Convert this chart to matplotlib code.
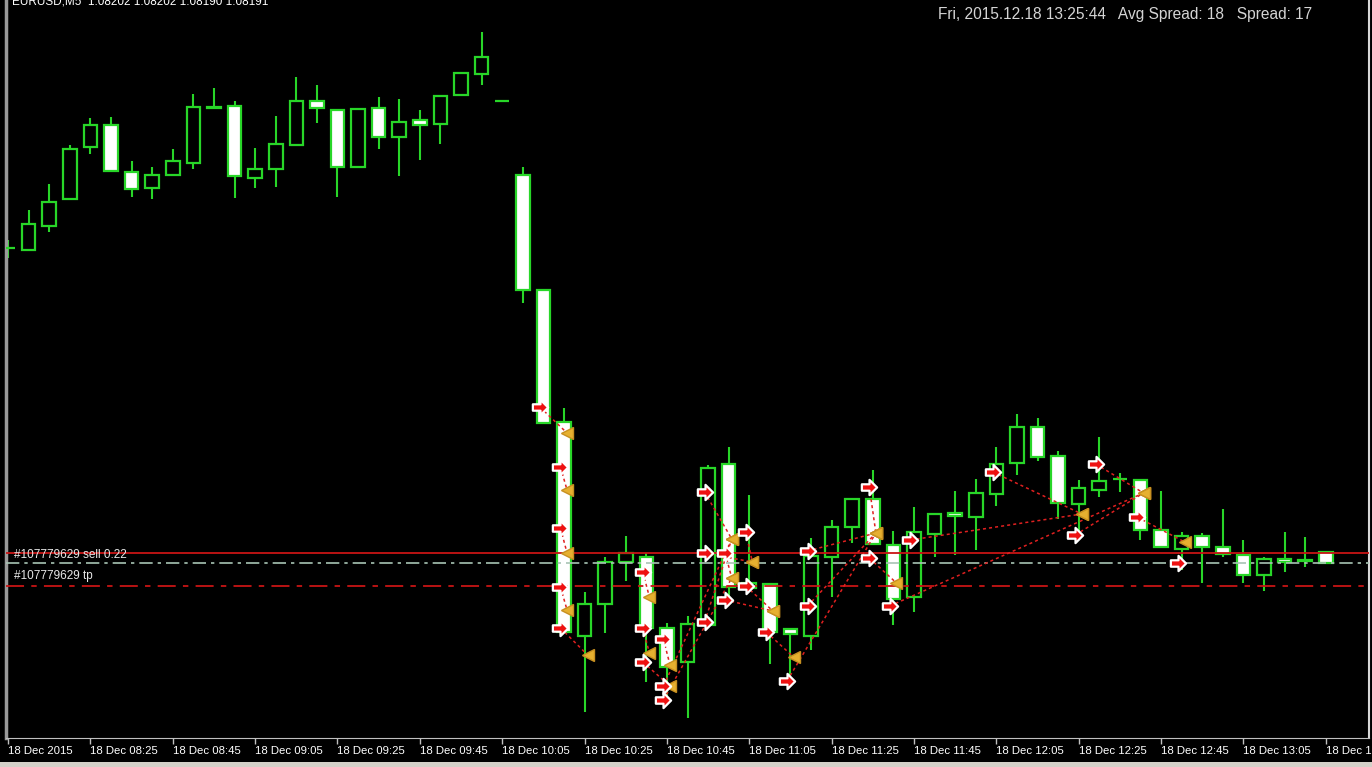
import numpy as np
import matplotlib
matplotlib.use('Agg')
import matplotlib.pyplot as plt
from matplotlib.path import Path
from matplotlib.patches import Rectangle

# EURUSD M5, 18 Dec 2015, bars from 08:05
opens = [1.08506, 1.08504, 1.08528, 1.08555, 1.08607, 1.08629, 1.08582, 1.08566, 1.08579, 1.08591,
         1.08647, 1.08648, 1.08576, 1.08585, 1.08609, 1.08653, 1.08644, 1.08587, 1.08646, 1.08617,
         1.08634, 1.08630, 1.08659, 1.08680, 1.08653, 1.08579, 1.08464, 1.08332, 1.08118, 1.08150,
         1.08192, 1.08197, 1.08126, 1.08092, 1.08129, 1.08290, 1.08166, 1.08170, 1.08125, 1.08118,
         1.08197, 1.08227, 1.08255, 1.08209, 1.08157, 1.08220, 1.08241, 1.08237, 1.08260, 1.08291,
         1.08327, 1.08298, 1.08250, 1.08264, 1.08275, 1.08274, 1.08224, 1.08205, 1.08218, 1.08207,
         1.08199, 1.08179, 1.08195, 1.08193, 1.08202]
highs = [1.08514, 1.08544, 1.08570, 1.08609, 1.08636, 1.08637, 1.08593, 1.08587, 1.08605, 1.08660,
         1.08666, 1.08653, 1.08606, 1.08638, 1.08677, 1.08669, 1.08644, 1.08645, 1.08657, 1.08655,
         1.08644, 1.08658, 1.08681, 1.08722, 1.08653, 1.08587, 1.08464, 1.08346, 1.08162, 1.08197,
         1.08218, 1.08201, 1.08131, 1.08138, 1.08289, 1.08307, 1.08259, 1.08170, 1.08125, 1.08216,
         1.08234, 1.08255, 1.08284, 1.08223, 1.08247, 1.08240, 1.08263, 1.08275, 1.08307, 1.08340,
         1.08336, 1.08303, 1.08274, 1.08317, 1.08281, 1.08274, 1.08263, 1.08222, 1.08221, 1.08245,
         1.08214, 1.08197, 1.08222, 1.08217, 1.08202]
lows = [1.08496, 1.08503, 1.08522, 1.08555, 1.08600, 1.08583, 1.08557, 1.08555, 1.08579, 1.08585,
        1.08646, 1.08556, 1.08566, 1.08567, 1.08609, 1.08631, 1.08557, 1.08587, 1.08605, 1.08578,
        1.08594, 1.08610, 1.08659, 1.08669, 1.08653, 1.08451, 1.08331, 1.08122, 1.08042, 1.08121,
        1.08173, 1.08072, 1.08051, 1.08036, 1.08126, 1.08157, 1.08166, 1.08090, 1.08067, 1.08104,
        1.08157, 1.08211, 1.08210, 1.08129, 1.08142, 1.08197, 1.08199, 1.08204, 1.08248, 1.08279,
        1.08293, 1.08235, 1.08219, 1.08257, 1.08262, 1.08214, 1.08207, 1.08184, 1.08171, 1.08197,
        1.08171, 1.08163, 1.08182, 1.08187, 1.08190]
closes = [1.08506, 1.08530, 1.08552, 1.08605, 1.08629, 1.08583, 1.08565, 1.08579, 1.08593, 1.08647,
          1.08646, 1.08578, 1.08585, 1.08610, 1.08653, 1.08646, 1.08587, 1.08645, 1.08617, 1.08632,
          1.08629, 1.08658, 1.08681, 1.08697, 1.08653, 1.08464, 1.08331, 1.08122, 1.08150, 1.08192,
          1.08201, 1.08126, 1.08087, 1.08130, 1.08286, 1.08167, 1.08171, 1.08122, 1.08120, 1.08198,
          1.08227, 1.08255, 1.08210, 1.08155, 1.08222, 1.08240, 1.08238, 1.08261, 1.08290, 1.08327,
          1.08297, 1.08251, 1.08266, 1.08273, 1.08275, 1.08224, 1.08207, 1.08218, 1.08207, 1.08200,
          1.08179, 1.08195, 1.08192, 1.08194, 1.08191]

tick_bars = [0, 4, 8, 12, 16, 20, 24, 28, 32, 36, 40, 44, 48, 52, 56, 60, 64]
tick_labels = ['18 Dec 2015', '18 Dec 08:25', '18 Dec 08:45', '18 Dec 09:05', '18 Dec 09:25',
               '18 Dec 09:45', '18 Dec 10:05', '18 Dec 10:25', '18 Dec 10:45', '18 Dec 11:05',
               '18 Dec 11:25', '18 Dec 11:45', '18 Dec 12:05', '18 Dec 12:25', '18 Dec 12:45',
               '18 Dec 13:05', '18 Dec 13:25']

# closed trades: open bar, open price, close bar, close price
trade_open_bar = [26, 27, 27, 27, 27, 31, 31, 31, 32, 32, 32, 34, 34, 34, 35, 35, 36, 36, 37, 38,
                  39, 39, 42, 42, 43, 44, 48, 52, 53, 55]
trade_open_px = [1.08347, 1.08287, 1.08226, 1.08167, 1.08126, 1.08182, 1.08126, 1.08092, 1.08115,
                 1.08068, 1.08054, 1.08262, 1.08201, 1.08132, 1.08201, 1.08154, 1.08222, 1.08168,
                 1.08122, 1.08073, 1.08203, 1.08148, 1.08267, 1.08196, 1.08148, 1.08214, 1.08282,
                 1.08219, 1.08290, 1.08237]
trade_close_bar = [27, 27, 27, 27, 28, 31, 31, 32, 32, 35, 35, 35, 36, 35, 35, 37, 36, 37, 38, 42,
                   42, 42, 42, 43, 55, 52, 52, 55, 55, 57]
trade_close_px = [1.08321, 1.08264, 1.08201, 1.08144, 1.08099, 1.08157, 1.08101, 1.08068, 1.08089,
                  1.08215, 1.08176, 1.08215, 1.08192, 1.08215, 1.08176, 1.08143, 1.08192, 1.08143,
                  1.08097, 1.08221, 1.08221, 1.08221, 1.08221, 1.08171, 1.08261, 1.08240, 1.08240,
                  1.08261, 1.08261, 1.08212]
open_order_bar = 57
open_order_px = 1.08191

sell_price = 1.08201
bid_price = 1.08191
tp_price = 1.08168

GREEN = '#28d628'

fig = plt.figure(figsize=(13.72, 7.67), dpi=100, facecolor='black')
ax = fig.add_axes([6 / 1372, 29 / 767, 1363 / 1372, 738 / 767], facecolor='black')

x = np.arange(len(opens))
o = np.array(opens)
c = np.array(closes)
bull = c >= o
fills = np.where(bull, 'black', 'white')

ax.vlines(x, lows, highs, color=GREEN, lw=1.5, zorder=2)
ax.bar(x, np.abs(c - o), bottom=np.minimum(o, c), width=0.66, color=fills,
       edgecolor=GREEN, linewidth=1.6, zorder=3)

# order lines
ax.axhline(sell_price, color='#c81414', lw=1.3, zorder=4)
ax.axhline(bid_price, color='#a8c4b4', lw=1.2, dashes=(8, 3, 2, 3), zorder=4)
ax.axhline(tp_price, color='#c81414', lw=1.3, dashes=(10, 4, 3, 4), zorder=4)
ax.text(0.3, sell_price - 0.00002, '#107779629 sell 0.22', color='#e8e8e8', fontsize=8.5,
        family='Liberation Sans', va='center', zorder=5)
ax.text(0.3, tp_price + 0.00010, '#107779629 tp', color='#e8e8e8', fontsize=8.5,
        family='Liberation Sans', va='center', zorder=5)

# trade history
arrow = Path([(-1, 0.42), (0.0, 0.42), (0.0, 1), (1, 0), (0.0, -1), (0.0, -0.42),
              (-1, -0.42), (-1, 0.42)],
             [Path.MOVETO] + [Path.LINETO] * 6 + [Path.CLOSEPOLY])
for ob, op, cb, cp in zip(trade_open_bar, trade_open_px, trade_close_bar, trade_close_px):
    ax.plot([ob - 0.17, cb + 0.15], [op, cp], color='#e02020', lw=1.1, dashes=(2, 2), zorder=5)
ax.plot(np.array(trade_close_bar) + 0.15, trade_close_px, ls='none', marker='<', ms=8,
        color='#e6b030', mec='#c89020', zorder=6)
ax.plot(np.array(trade_open_bar) - 0.17, trade_open_px, ls='none', marker=arrow, ms=11,
        color='#ee1111', mec='white', mew=1.6, zorder=7)
ax.plot([open_order_bar - 0.17], [open_order_px], ls='none', marker=arrow, ms=11,
        color='#ee1111', mec='white', mew=1.6, zorder=7)

ax.set_xlim(-0.1, 66.1)
ax.set_ylim(1.08016, 1.08754)
ax.set_yticks([])
ax.set_xticks(tick_bars)
ax.set_xticklabels(tick_labels, ha='left', color='white', fontsize=8.2, family='Liberation Sans')
ax.tick_params(axis='x', direction='out', length=4, width=1, color='#c0c0c0', pad=2)
ax.spines['top'].set_visible(False)
ax.spines['bottom'].set_color('#c0c0c0')
ax.spines['left'].set_color('#9a9a9a')
ax.spines['left'].set_linewidth(2.5)
ax.spines['right'].set_color('#d8d8d8')
ax.spines['right'].set_linewidth(1.5)

fig.text(12 / 1372, 1 - 4.5 / 767, 'EURUSD,M5  1.08202 1.08202 1.08190 1.08191', color='white',
         fontsize=8.5, family='Liberation Sans', va='baseline')
fig.text(938 / 1372, 1 - 14 / 767, 'Fri, 2015.12.18 13:25:44   Avg Spread: 18   Spread: 17',
         color='#d4d4d4', fontsize=11.2, family='Liberation Sans', va='center')
fig.patches.append(Rectangle((0, 0), 1, 5 / 767, transform=fig.transFigure,
                             facecolor='#d4d0c8', edgecolor='none'))

fig.savefig('out.png', dpi=100, facecolor='black')
